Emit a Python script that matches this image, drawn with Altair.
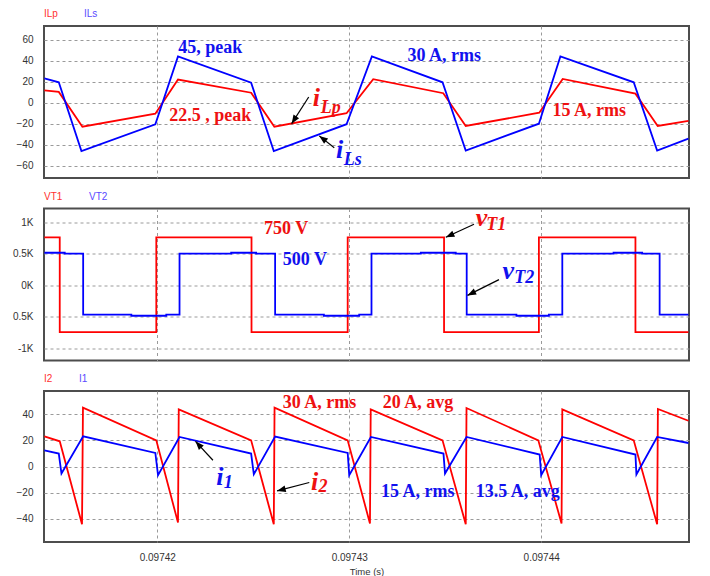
import altair as alt
import pandas as pd

# ---------------- values ----------------
x_ticks = [0.09742, 0.09743, 0.09744]
x_range = [0.0974141, 0.0974477]

# Panel 1 : ILp / ILs (A)
t_iLp = [0.09741412, 0.09741487, 0.09741610, 0.09741990, 0.09742108, 0.09742489, 0.09742610, 0.09742986,
         0.09743125, 0.09743490, 0.09743607, 0.09743990, 0.09744112, 0.09744491, 0.09744607, 0.09744767]
iLp = [11.8, 10.2, -22.9, -10.5, 22.0, 9.5, -22.9, -10.0, 22.4, 9.0, -22.2, -9.5, 22.6, 8.6, -22.2, -17.4]
t_iLs = [0.09741412, 0.09741487, 0.09741605, 0.09741990, 0.09742108, 0.09742489, 0.09742607, 0.09742986,
         0.09743118, 0.09743486, 0.09743607, 0.09743988, 0.09744100, 0.09744482, 0.09744604, 0.09744767]
iLs = [23.2, 19.4, -46.0, -20.6, 44.0, 19.0, -46.0, -20.5, 44.0, 19.4, -45.5, -20.0, 44.0, 19.4, -45.5, -34.3]
y1_ticks = [-60, -40, -20, 0, 20, 40, 60]
y1_range = [-71.7, 73.0]

# Panel 2 : VT1 / VT2 (V)
t_vT1 = [0.09741412, 0.09741492, 0.09741492, 0.09741995, 0.09741995, 0.09742491, 0.09742491, 0.09742992,
         0.09742992, 0.09743494, 0.09743494, 0.09743988, 0.09743988, 0.09744491, 0.09744491, 0.09744767]
vT1 = [765, 765, -745, -745, 765, 765, -745, -745, 765, 765, -745, -745, 765, 765, -745, -745]
t_vT2 = [0.09741412, 0.09741518, 0.09741518, 0.09741614, 0.09741614, 0.09741865, 0.09741865, 0.09742047,
         0.09742047, 0.09742116, 0.09742116, 0.09742385, 0.09742385, 0.09742515, 0.09742515, 0.09742614,
         0.09742614, 0.09742868, 0.09742868, 0.09743052, 0.09743052, 0.09743116, 0.09743116, 0.09743373,
         0.09743373, 0.09743555, 0.09743555, 0.09743612, 0.09743612, 0.09743871, 0.09743871, 0.09744040,
         0.09744040, 0.09744110, 0.09744110, 0.09744377, 0.09744377, 0.09744526, 0.09744526, 0.09744617,
         0.09744617, 0.09744767]
vT2 = [520, 520, 505, 505, -468, -468, -485, -485, -468, -468, 505, 505, 520, 520, 505, 505, -468,
       -468, -485, -485, -468, -468, 505, 505, 520, 520, 505, 505, -468, -468, -485, -485, -468,
       -468, 505, 505, 520, 520, 505, 505, -468, -468]
y2_ticks = [-1000, -500, 0, 500, 1000]
y2_range = [-1198, 1225]

# Panel 3 : I2 / I1 (A)
t_i2 = [0.09741412, 0.09741492, 0.09741608, 0.09741613, 0.09741995, 0.09742108, 0.09742112, 0.09742489,
        0.09742607, 0.09742611, 0.09742992, 0.09743108, 0.09743112, 0.09743486, 0.09743607, 0.09743611,
        0.09743985, 0.09744106, 0.09744110, 0.09744482, 0.09744604, 0.09744608, 0.09744767]
i2 = [23.1, 19.3, -44.0, 45.0, 20.0, -42.8, 43.7, 20.0, -44.0, 45.0, 20.0, -43.5, 43.7, 20.0, -44.0,
      44.7, 20.0, -43.5, 43.7, 20.0, -44.0, 44.0, 35.0]
t_i1 = [0.09741412, 0.09741487, 0.09741501, 0.09741614, 0.09741990, 0.09742004, 0.09742116, 0.09742489,
        0.09742503, 0.09742614, 0.09742992, 0.09743000, 0.09743113, 0.09743491, 0.09743499, 0.09743611,
        0.09743992, 0.09744000, 0.09744110, 0.09744491, 0.09744496, 0.09744604, 0.09744767]
i1 = [12.4, 9.9, -5.3, 23.1, 10.4, -6.6, 22.6, 9.9, -5.9, 22.9, 10.4, -6.6, 22.6, 9.9, -5.3, 22.6,
      9.2, -6.6, 22.6, 9.2, -6.1, 22.6, 18.0]
y3_ticks = [-40, -20, 0, 20, 40]
y3_range = [-57.6, 57.7]

# annotations (text, time, value, colour)
RED, BLUE = "#ff0000", "#0000ff"
RED_T, BLUE_T = "#ee1111", "#1111ee"
p1_labels = [("45, peak", 0.09742109, 52.4, BLUE_T), ("22.5 , peak", 0.09742062, -12.7, RED_T),
             ("30 A, rms", 0.09743304, 44.5, BLUE_T), ("15 A, rms", 0.09744059, -7.9, RED_T)]
p1_sym = [("i", 0.09742810, -3.1, RED_T), ("i", 0.09742931, -53.0, BLUE_T)]
p1_sub = [("Lp", 0.09742852, -9.5, RED_T), ("Ls", 0.09742972, -59.3, BLUE_T)]
p1_arrows = [(0.09742789, 5.4, 0.09742700, -20.0, 212.5), (0.09742922, -42.9, 0.09742844, -31.6, 308.0)]

p2_labels = [("750 V", 0.09742556, 905, RED_T), ("500 V", 0.09742654, 410, BLUE_T)]
p2_sym = [("v", 0.09743659, 942, RED_T), ("v", 0.09743798, 107, BLUE_T)]
p2_sub = [("T1", 0.09743714, 886, RED_T), ("T2", 0.09743860, 43, BLUE_T)]
p2_arrows = [(0.09743650, 974, 0.09743503, 767, 245.8), (0.09743780, 91, 0.09743616, -160, 243.6)]

p3_labels = [("30 A, rms", 0.09742654, 48.5, RED_T), ("20 A, avg", 0.09743174, 48.5, RED_T),
             ("15 A, rms", 0.09743165, -19.4, BLUE_T), ("13.5 A, avg", 0.09743659, -19.4, BLUE_T)]
p3_sym = [("i", 0.09742307, -14.3, BLUE_T), ("i", 0.09742801, -18.1, RED_T)]
p3_sub = [("1", 0.09742346, -16.0, BLUE_T), ("2", 0.09742840, -19.4, RED_T)]
p3_arrows = [(0.09742290, 4.8, 0.09742199, 19.3, 317.5), (0.09742792, -12.2, 0.09742624, -18.6, 255.4)]

W = 645
GRID = dict(grid=True, gridDash=[3, 3], gridColor="#9a9a9a", gridWidth=1, ticks=False, domain=False)


def x_enc(field, bottom):
    if bottom:
        ax = alt.Axis(values=x_ticks, labels=True, format=".5f", labelFont="Liberation Sans",
                      labelFontSize=10, labelColor="#333333", labelPadding=10, title="Time (s)",
                      titleFont="Liberation Sans", titleFontSize=9.5, titleFontWeight="normal",
                      titleColor="#333333", titlePadding=4, **GRID)
    else:
        ax = alt.Axis(values=x_ticks, labels=False, title="", **GRID)
    return alt.X(field, type="quantitative", scale=alt.Scale(domain=x_range, nice=False, zero=False), axis=ax)


def y_enc(field, ticks, rng, label_expr=None):
    kw = dict(values=ticks, labelFont="Liberation Sans", labelFontSize=10, labelColor="#333333",
              labelPadding=11, minExtent=38, maxExtent=38, title="", **GRID)
    if label_expr:
        kw["labelExpr"] = label_expr
    return alt.Y(field, type="quantitative", scale=alt.Scale(domain=rng, nice=False, zero=False),
                 axis=alt.Axis(**kw))


def panel(series, labels, syms, subs, arrows, legend, ticks, rng, h, bottom=False, label_expr=None):
    X = x_enc("t", bottom)
    Y = y_enc("v", ticks, rng, label_expr)
    layers = []
    for t, v, col in series:
        df = pd.DataFrame({"t": t, "v": v, "i": list(range(len(t)))})
        layers.append(alt.Chart(df).mark_line(color=col, strokeWidth=1.8, clip=True).encode(
            x=X, y=Y, order="i:Q"))
    for rows, size, style, base in [(labels, 18, "normal", "middle"), (syms, 26, "italic", "alphabetic"),
                                    (subs, 18, "italic", "alphabetic")]:
        df = pd.DataFrame(rows, columns=["text", "t", "v", "c"])
        layers.append(alt.Chart(df).mark_text(font="Liberation Serif", fontWeight="bold", fontStyle=style,
                                              fontSize=size, align="left", baseline=base).encode(
            x=X, y=Y, text="text:N", color=alt.Color("c:N", scale=None)))
    adf = pd.DataFrame(arrows, columns=["t", "v", "t1", "v1", "ang"])
    layers.append(alt.Chart(adf).mark_rule(color="black", strokeWidth=1.2).encode(
        x=X, y=Y, x2="t1:Q", y2="v1:Q"))
    layers.append(alt.Chart(adf).mark_point(filled=True, color="black", opacity=1, size=300,
                                            shape="M0,0L-0.38,1L0.38,1Z").encode(
        x=x_enc("t1", bottom), y=y_enc("v1", ticks, rng, label_expr),
        angle=alt.Angle("ang:Q", scale=None)))
    for name, px, col in legend:
        layers.append(alt.Chart(pd.DataFrame({"n": [name]})).mark_text(
            font="Liberation Sans", fontSize=10, align="left", baseline="middle", color=col).encode(
            x=alt.value(px), y=alt.value(-12), text="n:N"))
    return alt.layer(*layers).properties(width=W, height=h)


p1 = panel([(t_iLp, iLp, RED), (t_iLs, iLs, BLUE)], p1_labels, p1_sym, p1_sub, p1_arrows,
           [("ILp", 0, "#ff3030"), ("ILs", 40, "#5a4aff")], y1_ticks, y1_range, 152)
p2 = panel([(t_vT1, vT1, RED), (t_vT2, vT2, BLUE)], p2_labels, p2_sym, p2_sub, p2_arrows,
           [("VT1", 0, "#ff3030"), ("VT2", 45, "#5a4aff")], y2_ticks, y2_range, 152,
           label_expr="datum.value == 0 ? '0K' : (abs(datum.value) == 500 ? '0.5K' : (datum.value > 0 ? '1K' : '-1K'))")
p3 = panel([(t_i2, i2, RED), (t_i1, i1, BLUE)], p3_labels, p3_sym, p3_sub, p3_arrows,
           [("I2", 0, "#ff3030"), ("I1", 35, "#5a4aff")], y3_ticks, y3_range, 151, bottom=True)

chart = alt.vconcat(p1, p2, p3, spacing=30.5, bounds="flush").resolve_scale(
    x="independent", y="independent").properties(
    padding={"left": 5, "top": 8, "right": 5, "bottom": 5}, background="white").configure_view(
    stroke="#4d4d4d", strokeWidth=2)

chart.save("out.html", embed_options={"renderer": "svg", "actions": False})
